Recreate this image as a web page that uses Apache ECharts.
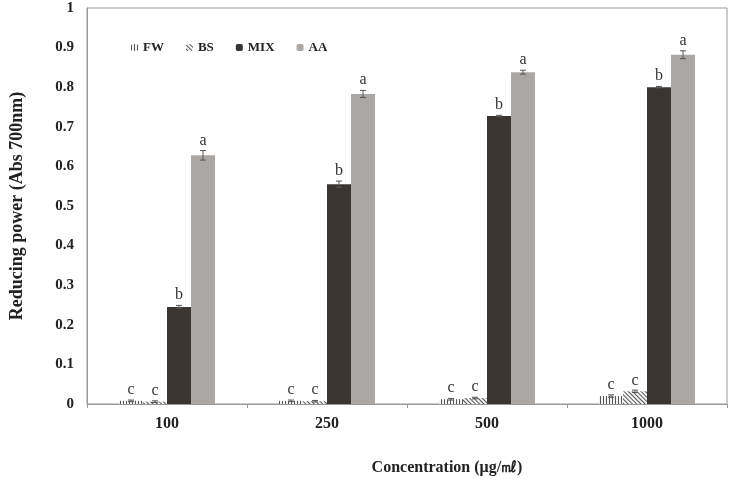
<!DOCTYPE html>
<html>
<head>
<meta charset="utf-8">
<script src="https://cdn.jsdelivr.net/npm/echarts@6/dist/echarts.min.js"></script>
<style>
  html, body { margin: 0; padding: 0; background: #fff; }
</style>
</head>
<body>
<div id="chart" style="width: 730px; height: 479px"></div>
<script>
// concentration groups
const categories = ['100', '250', '500', '1000']
const seriesNames = ['FW', 'BS', 'MIX', 'AA']

// reducing power values per series
const fwValues = [0.008, 0.008, 0.012, 0.020]
const bsValues = [0.006, 0.007, 0.015, 0.032]
const mixValues = [0.245, 0.555, 0.727, 0.800]
const aaValues = [0.628, 0.783, 0.838, 0.882]

// standard deviations
const fwErr = [0.002, 0.002, 0.002, 0.003]
const bsErr = [0.002, 0.002, 0.002, 0.003]
const mixErr = [0.004, 0.008, 0.002, 0.002]
const aaErr = [0.012, 0.009, 0.005, 0.010]

// significance letters
const fwLetters = ['c', 'c', 'c', 'c']
const bsLetters = ['c', 'c', 'c', 'c']
const mixLetters = ['b', 'b', 'b', 'b']
const aaLetters = ['a', 'a', 'a', 'a']

const yTicks = ['0', '0.1', '0.2', '0.3', '0.4', '0.5', '0.6', '0.7', '0.8', '0.9', '1']

const serif = '"Liberation Serif", "DejaVu Serif", serif'
const barW = 24

const values = [fwValues, bsValues, mixValues, aaValues]
const errs = [fwErr, bsErr, mixErr, aaErr]
const letters = [fwLetters, bsLetters, mixLetters, aaLetters]

const styles = [
  {
    color: '#f4f4f4',
    decal: { symbol: 'rect', symbolSize: 1, color: '#555', dashArrayX: [1, 2], dashArrayY: [3, 0] }
  },
  {
    color: '#f4f4f4',
    decal: { symbol: 'rect', symbolSize: 1, color: '#555', dashArrayX: [3, 0], dashArrayY: [1, 2], rotation: Math.PI / 4 }
  },
  { color: '#3a3531' },
  { color: '#aba7a4' }
]

const chart = echarts.init(document.getElementById('chart'))

const barSeries = seriesNames.map((name, i) => ({
  name: name,
  type: 'bar',
  barWidth: barW,
  barGap: '0%',
  itemStyle: styles[i],
  label: {
    show: true,
    position: 'top',
    distance: 3,
    fontFamily: serif,
    fontSize: 16,
    color: '#333',
    formatter: p => letters[i][p.dataIndex]
  },
  data: values[i].map((v, j) => ({ value: v, label: { distance: 2 + Math.round(errs[i][j] * 395) } }))
}))

// error bars drawn through the axes
const errSeries = seriesNames.map((name, i) => ({
  type: 'custom',
  silent: true,
  z: 5,
  renderItem: (params, api) => {
    const j = api.value(0)
    const v = values[i][j]
    const e = errs[i][j]
    const off = (i - 1.5) * barW
    const hi = api.coord([j, v + e])
    const lo = api.coord([j, v - e])
    const x = hi[0] + off
    const style = { stroke: '#555', lineWidth: 1 }
    return {
      type: 'group',
      children: [
        { type: 'line', shape: { x1: x, y1: hi[1], x2: x, y2: lo[1] }, style },
        { type: 'line', shape: { x1: x - 3, y1: hi[1], x2: x + 3, y2: hi[1] }, style },
        { type: 'line', shape: { x1: x - 3, y1: lo[1], x2: x + 3, y2: lo[1] }, style }
      ]
    }
  },
  data: categories.map((c, j) => [j])
}))

chart.setOption({
  animation: false,
  title: {
    text: 'Concentration (μg/㎖)',
    left: 442,
    top: 455,
    textAlign: 'center',
    textStyle: { fontFamily: serif, fontSize: 16, fontWeight: 'bold', color: '#222' }
  },
  legend: {
    data: seriesNames,
    left: 126,
    top: 36,
    itemWidth: 7,
    itemHeight: 7,
    itemGap: 22,
    textStyle: { fontFamily: serif, fontSize: 13, fontWeight: 'bold', color: '#222' }
  },
  grid: {
    left: 83,
    right: 3,
    top: 8,
    bottom: 75,
    show: true,
    borderColor: '#999',
    borderWidth: 1
  },
  xAxis: {
    type: 'category',
    data: categories,
    axisLine: { lineStyle: { color: '#999' } },
    axisTick: { show: true, length: 4, lineStyle: { color: '#999' } },
    axisLabel: { margin: 12, fontFamily: serif, fontSize: 16, fontWeight: 'bold', color: '#222' }
  },
  yAxis: {
    type: 'value',
    min: 0,
    max: 1,
    interval: 0.1,
    name: 'Reducing power (Abs 700nm)',
    nameLocation: 'middle',
    nameGap: 61,
    nameTextStyle: { fontFamily: serif, fontSize: 18, fontWeight: 'bold', color: '#222' },
    axisLine: { show: true, lineStyle: { color: '#999' } },
    axisTick: { show: false },
    splitLine: { show: false },
    axisLabel: {
      margin: 13,
      fontFamily: serif,
      fontSize: 15,
      fontWeight: 'bold',
      color: '#222',
      formatter: (v) => yTicks[Math.round(v * 10)]
    }
  },
  series: barSeries.concat(errSeries)
})
</script>
</body>
</html>
